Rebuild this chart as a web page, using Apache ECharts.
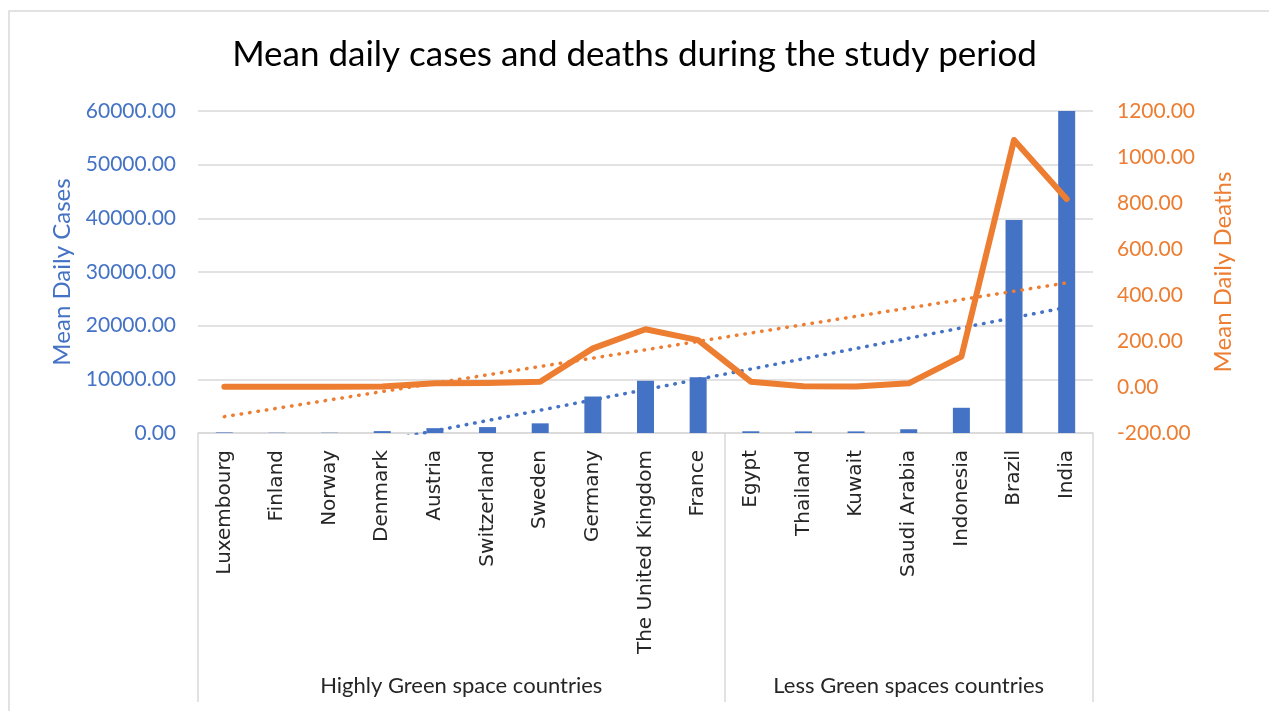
<!DOCTYPE html>
<html>
<head>
<meta charset="utf-8">
<script src="https://cdn.jsdelivr.net/npm/echarts@6/dist/echarts.min.js"></script>
<style>
  html, body { margin: 0; padding: 0; background: #fff; }
  #chart { width: 1269px; height: 711px; }
</style>
</head>
<body>
<div id="chart"></div>
<script>
const countries = ['Luxembourg', 'Finland', 'Norway', 'Denmark', 'Austria', 'Switzerland', 'Sweden', 'Germany',
  'The United Kingdom', 'France', 'Egypt', 'Thailand', 'Kuwait', 'Saudi Arabia', 'Indonesia', 'Brazil', 'India'];
const groups = ['Highly Green space countries', 'Less Green spaces countries'];
const groupSizes = [10, 7];
const meanCases = [100, 50, 50, 350, 900, 1100, 1800, 6800, 9750, 10400, 320, 300, 300, 700, 4700, 39700, 60000];
const meanDeaths = [1, 1, 1, 2, 16, 17, 23, 168, 251, 204, 23, 3, 2, 16, 132, 1074, 817];

// straight-line least squares fit, like Excel's linear trendline
function linearTrend(values) {
    const n = values.length;
    const mx = (n + 1) / 2;
    const my = values.reduce((a, b) => a + b, 0) / n;
    let sxy = 0, sxx = 0;
    values.forEach((v, i) => {
        sxy += (i + 1 - mx) * (v - my);
        sxx += (i + 1 - mx) * (i + 1 - mx);
    });
    const slope = sxy / sxx;
    return values.map((v, i) => my + slope * (i + 1 - mx));
}

// label positions for the group row (centre of each group's span)
const groupCentres = {};
let start = 0;
groupSizes.forEach((size, i) => {
    groupCentres[start + size / 2] = groups[i];
    start += size;
});
const groupBreaks = [0, groupSizes[0]];

const blue = '#4472C4';
const orange = '#ED7D31';
const font = 'Lato';

const chart = echarts.init(document.getElementById('chart'));

const option = {
    animation: false,
    textStyle: { fontFamily: font },
    title: {
        text: 'Mean daily cases and deaths during the study period',
        left: 'center',
        top: 32,
        textStyle: { fontFamily: font, fontSize: 35, fontWeight: 'normal', color: '#000' }
    },
    grid: { left: 198, right: 176, top: 111, bottom: 278 },
    graphic: [{
        type: 'rect',
        shape: { x: 9, y: 11, width: 1300, height: 720 },
        style: { fill: 'none', stroke: '#d9d9d9', lineWidth: 1.5 },
        silent: true
    }],
    xAxis: [
        {
            type: 'category',
            data: countries,
            axisLine: { lineStyle: { color: '#d9d9d9', width: 1.5 } },
            axisTick: {
                show: true,
                length: 269,
                interval: (index) => groupBreaks.indexOf(index) >= 0,
                lineStyle: { color: '#d9d9d9', width: 1.5 }
            },
            axisLabel: {
                rotate: 90,
                interval: 0,
                margin: 17,
                fontSize: 20,
                fontFamily: 'DejaVu Sans',
                color: '#262626'
            }
        },
        {
            type: 'value',
            min: 0,
            max: countries.length,
            interval: 0.5,
            position: 'bottom',
            axisLine: { show: false },
            axisTick: { show: false },
            splitLine: { show: false },
            axisLabel: {
                margin: 242,
                fontSize: 22,
                fontFamily: font,
                color: '#262626',
                showMinLabel: true,
                showMaxLabel: true,
                formatter: (v) => groupCentres[v] || ''
            }
        }
    ],
    yAxis: [
        {
            type: 'value',
            min: 0,
            max: 60000,
            interval: 10000,
            name: 'Mean Daily Cases',
            nameLocation: 'middle',
            nameGap: 124,
            nameTextStyle: { color: blue, fontSize: 24, fontFamily: font },
            axisLine: { show: false },
            axisTick: { show: false },
            axisLabel: {
                color: blue,
                fontSize: 21,
                fontFamily: font,
                margin: 22,
                formatter: (v) => v.toFixed(2)
            },
            splitLine: { lineStyle: { color: '#d9d9d9', width: 1.5 } }
        },
        {
            type: 'value',
            min: -200,
            max: 1200,
            interval: 200,
            name: 'Mean Daily Deaths',
            nameLocation: 'middle',
            nameGap: 118,
            nameTextStyle: { color: orange, fontSize: 24, fontFamily: font },
            axisLine: { show: false },
            axisTick: { show: false },
            axisLabel: {
                color: orange,
                fontSize: 21,
                fontFamily: font,
                margin: 24,
                formatter: (v) => v.toFixed(2)
            },
            splitLine: { show: false }
        }
    ],
    series: [
        {
            name: 'Mean Daily Cases',
            type: 'bar',
            xAxisIndex: 0,
            yAxisIndex: 0,
            barWidth: 17,
            itemStyle: { color: blue },
            data: meanCases
        },
        {
            name: 'Linear (Mean Daily Cases)',
            type: 'line',
            xAxisIndex: 0,
            yAxisIndex: 0,
            showSymbol: false,
            clip: true,
            lineStyle: { color: blue, width: 3.5, type: [0.5, 8], cap: 'round' },
            data: linearTrend(meanCases)
        },
        {
            name: 'Mean Daily Deaths',
            type: 'line',
            xAxisIndex: 0,
            yAxisIndex: 1,
            showSymbol: false,
            lineStyle: { color: orange, width: 6, cap: 'round', join: 'round' },
            data: meanDeaths
        },
        {
            name: 'Linear (Mean Daily Deaths)',
            type: 'line',
            xAxisIndex: 0,
            yAxisIndex: 1,
            showSymbol: false,
            clip: true,
            lineStyle: { color: orange, width: 3.5, type: [0.5, 8], cap: 'round' },
            data: linearTrend(meanDeaths)
        }
    ]
};

chart.setOption(option);

window.addEventListener('resize', function () {
    chart.resize();
});
</script>
</body>
</html>
